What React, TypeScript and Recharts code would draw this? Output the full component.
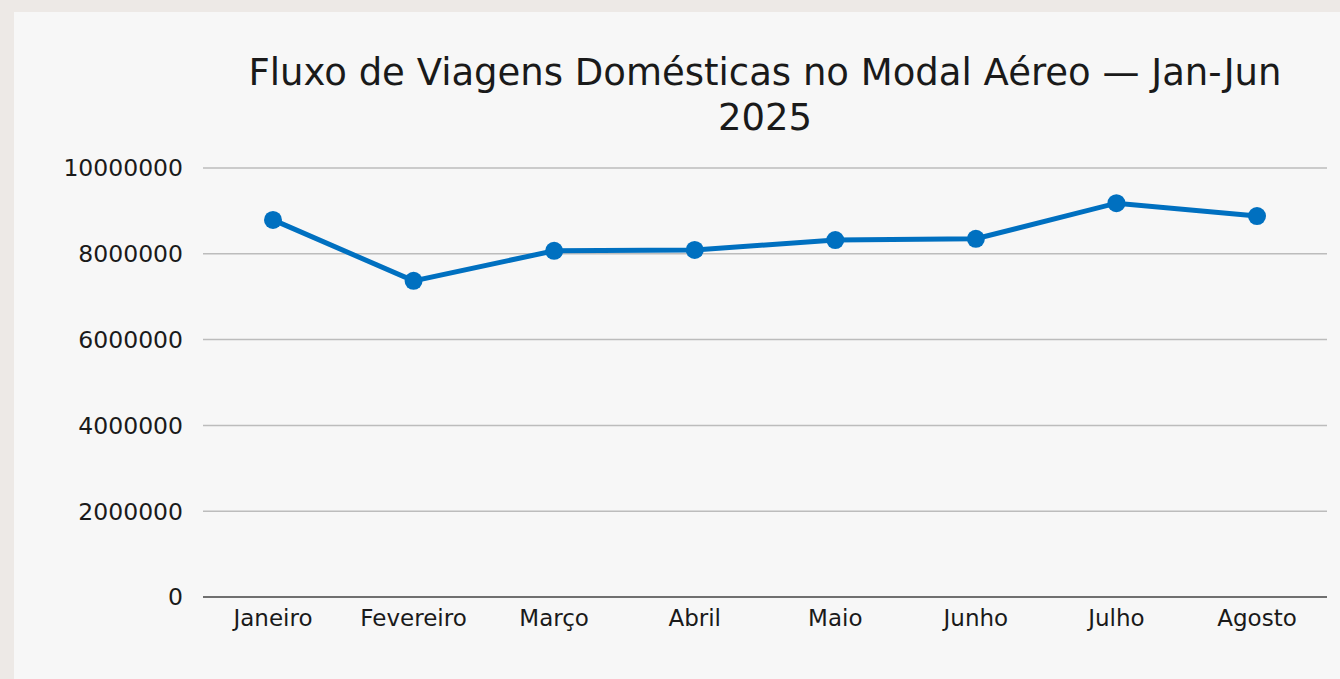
import { LineChart, Line, XAxis, YAxis, CartesianGrid } from 'recharts';

// meses e passageiros
const MESES = ['Janeiro', 'Fevereiro', 'Março', 'Abril', 'Maio', 'Junho', 'Julho', 'Agosto'];
const PASSAGEIROS = [8790000, 7370000, 8070000, 8090000, 8320000, 8350000, 9180000, 8880000];
const Y_TICKS = [0, 2000000, 4000000, 6000000, 8000000, 10000000];

const FONT = '"DejaVu Sans", sans-serif';

const data = MESES.map((mes, i) => ({ mes, valor: PASSAGEIROS[i] }));

export default function App() {
  return (
    <div
      style={{
        position: 'fixed',
        left: 0,
        top: 0,
        width: 1340,
        height: 679,
        background: '#ede9e6',
        fontFamily: FONT,
        overflow: 'hidden',
      }}
    >
      <div
        style={{
          position: 'absolute',
          left: 14,
          top: 12,
          width: 1326,
          height: 667,
          background: '#f7f7f7',
        }}
      />
      <div
        style={{
          position: 'absolute',
          left: 203,
          width: 1124,
          top: 50,
          textAlign: 'center',
          fontSize: 37,
          lineHeight: '45px',
          color: '#1a1a1a',
        }}
      >
        Fluxo de Viagens Domésticas no Modal Aéreo — Jan-Jun
        <br />
        2025
      </div>
      <div style={{ position: 'absolute', left: 0, top: 0 }}>
        <LineChart
          width={1340}
          height={679}
          data={data}
          margin={{ top: 168, right: 13, bottom: 42, left: 63 }}
        >
          <CartesianGrid vertical={false} stroke="#bcbcbc" strokeWidth={1.5} />
          <XAxis
            dataKey="mes"
            height={40}
            padding={{ left: 70, right: 70 }}
            tickLine={false}
            tickSize={0}
            tickMargin={13}
            stroke="#707070"
            strokeWidth={2}
            tick={{ fill: '#1a1a1a', fontSize: 23, fontFamily: FONT }}
          />
          <YAxis
            width={140}
            domain={[0, 10000000]}
            ticks={Y_TICKS}
            axisLine={false}
            tickLine={false}
            tickSize={0}
            tickMargin={20}
            tick={{ fill: '#1a1a1a', fontSize: 23.5, fontFamily: FONT }}
          />
          <Line
            type="linear"
            dataKey="valor"
            stroke="#0070c0"
            strokeWidth={5}
            dot={{ r: 9, fill: '#0070c0', stroke: '#0070c0', strokeWidth: 0 }}
            isAnimationActive={false}
          />
        </LineChart>
      </div>
    </div>
  );
}
